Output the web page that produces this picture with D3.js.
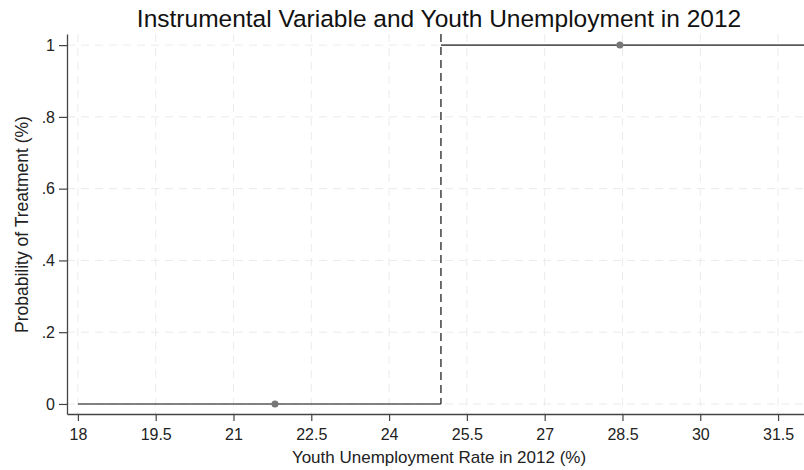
<!DOCTYPE html>
<html>
<head>
<meta charset="utf-8">
<script src="https://cdn.jsdelivr.net/npm/d3@7"></script>
<style>
  body { margin: 0; background: #fff; }
  svg { display: block; font-family: 'Liberation Sans', Arial, sans-serif; }
</style>
</head>
<body>
<div id="chart"></div>
<script>
// data
const xTicks = [18, 19.5, 21, 22.5, 24, 25.5, 27, 28.5, 30, 31.5];
const yTicks = [0, 0.2, 0.4, 0.6, 0.8, 1];
const cutoff = 25;
// step segments: [x start, x end, probability]
const segStart = [18, 25];
const segEnd = [25, 32];
const segValue = [0, 1];
// group mean points
const pointX = [21.8, 28.45];
const pointY = [0, 1];

const W = 804, H = 470;
const margin = { top: 34, right: 0, bottom: 56, left: 67 };
const width = W - margin.left - margin.right;
const height = H - margin.top - margin.bottom;

const svg = d3.select('#chart')
  .append('svg')
  .attr('width', W)
  .attr('height', H);

const g = svg.append('g')
  .attr('transform', `translate(${margin.left},${margin.top})`);

const x = d3.scaleLinear().domain([17.79, 32]).range([0, width]);
const y = d3.scaleLinear().domain([-0.028, 1.031]).range([height, 0]);

// grid
g.append('g')
  .selectAll('line')
  .data(xTicks)
  .enter()
  .append('line')
  .attr('x1', d => x(d))
  .attr('x2', d => x(d))
  .attr('y1', 0)
  .attr('y2', height)
  .attr('stroke', '#ebebeb')
  .attr('stroke-dasharray', '8,6');

g.append('g')
  .selectAll('line')
  .data(yTicks)
  .enter()
  .append('line')
  .attr('x1', 0)
  .attr('x2', width)
  .attr('y1', d => y(d))
  .attr('y2', d => y(d))
  .attr('stroke', '#ebebeb')
  .attr('stroke-dasharray', '8,6');

// step lines
g.append('g')
  .selectAll('line')
  .data(segValue)
  .enter()
  .append('line')
  .attr('x1', (d, i) => x(segStart[i]))
  .attr('x2', (d, i) => x(segEnd[i]))
  .attr('y1', d => y(d))
  .attr('y2', d => y(d))
  .attr('stroke', '#5a5a5a')
  .attr('stroke-width', 1.6);

// cutoff
g.append('line')
  .attr('x1', x(cutoff))
  .attr('x2', x(cutoff))
  .attr('y1', 0)
  .attr('y2', y(0))
  .attr('stroke', '#333')
  .attr('stroke-width', 1.4)
  .attr('stroke-dasharray', '8,5');

// points
g.append('g')
  .selectAll('circle')
  .data(pointX)
  .enter()
  .append('circle')
  .attr('cx', d => x(d))
  .attr('cy', (d, i) => y(pointY[i]))
  .attr('r', 3.5)
  .attr('fill', '#777');

// axes
const yFmt = d => d === 0 ? '0' : d === 1 ? '1' : d3.format('.1f')(d).replace(/^0/, '');

const xAxis = g.append('g')
  .attr('transform', `translate(0,${height})`)
  .call(d3.axisBottom(x).tickValues(xTicks).tickFormat(d => String(d))
    .tickSize(7).tickPadding(8).tickSizeOuter(0));

const yAxis = g.append('g')
  .call(d3.axisLeft(y).tickValues(yTicks).tickFormat(yFmt)
    .tickSize(8).tickPadding(4).tickSizeOuter(0));

[xAxis, yAxis].forEach(a => {
  a.select('.domain').attr('stroke', '#444').attr('stroke-width', 1.3);
  a.selectAll('.tick line').attr('stroke', '#444').attr('stroke-width', 1.2);
  a.selectAll('.tick text')
    .attr('fill', '#222')
    .style('font-size', '16px')
    .style('font-family', "'Liberation Sans', Arial, sans-serif");
});

// titles
svg.append('text')
  .attr('x', 439)
  .attr('y', 27)
  .attr('text-anchor', 'middle')
  .style('font-size', '24.5px')
  .attr('fill', '#111')
  .text('Instrumental Variable and Youth Unemployment in 2012');

svg.append('text')
  .attr('x', 439)
  .attr('y', 463)
  .attr('text-anchor', 'middle')
  .style('font-size', '17px')
  .attr('fill', '#222')
  .text('Youth Unemployment Rate in 2012 (%)');

svg.append('text')
  .attr('transform', `translate(28,${margin.top + y(0.5)}) rotate(-90)`)
  .attr('text-anchor', 'middle')
  .style('font-size', '17.5px')
  .attr('fill', '#222')
  .text('Probability of Treatment (%)');
</script>
</body>
</html>
